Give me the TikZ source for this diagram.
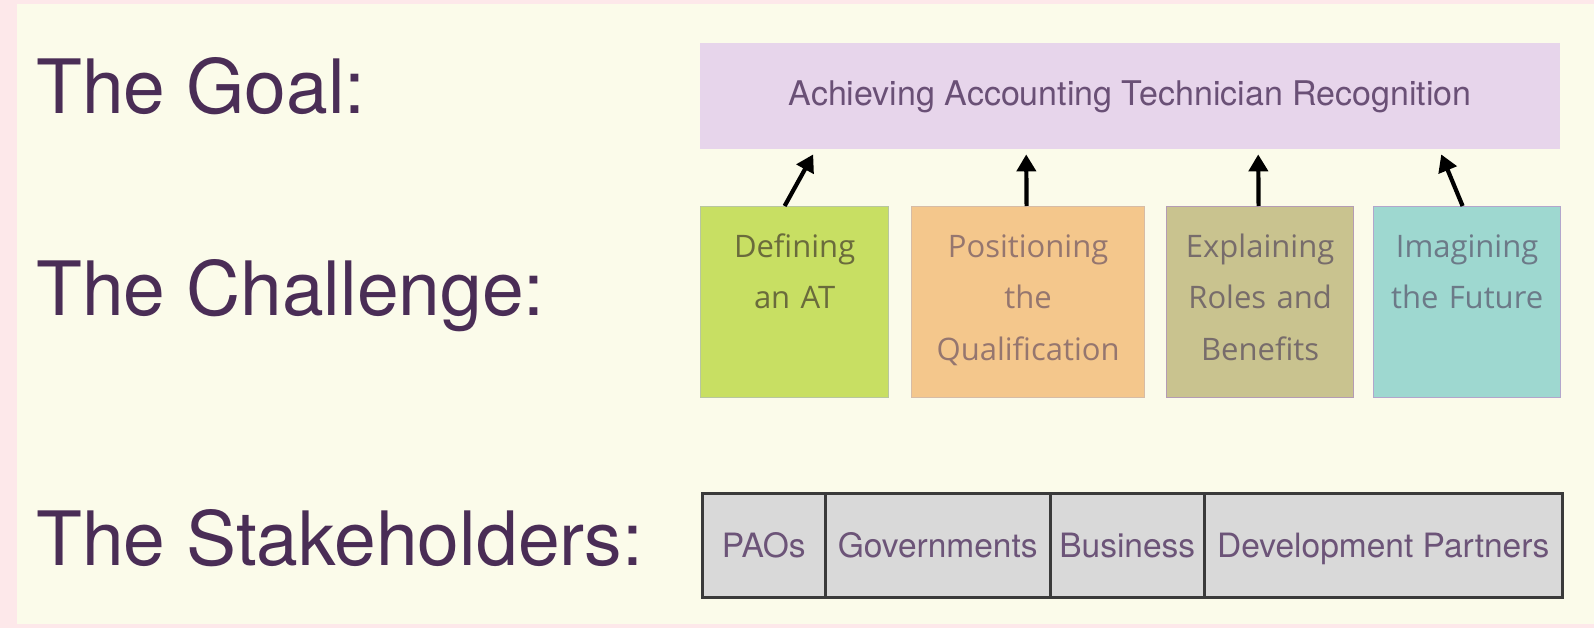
\documentclass[tikz,border=0pt]{standalone}
\usepackage{fontspec}
\setmainfont{TeX Gyre Heros}
\newfontfamily\boxfont{Open Sans}
\usetikzlibrary{arrows.meta}
\definecolor{pinkbg}{HTML}{FDE8EA}
\definecolor{creambg}{HTML}{FBFBEA}
\definecolor{labelc}{HTML}{4A2D56}
\definecolor{goalfill}{HTML}{E7D5EB}
\definecolor{goaltext}{HTML}{6A5076}
\definecolor{gfill}{HTML}{C8DF63}
\definecolor{gdraw}{HTML}{B8C6A0}
\definecolor{gtext}{HTML}{6A6B3C}
\definecolor{ofill}{HTML}{F4C78C}
\definecolor{odraw}{HTML}{D6BCA6}
\definecolor{otext}{HTML}{95766F}
\definecolor{kfill}{HTML}{C9C38F}
\definecolor{kdraw}{HTML}{B49CB4}
\definecolor{ktext}{HTML}{776C6B}
\definecolor{tfill}{HTML}{9ED8D0}
\definecolor{tdraw}{HTML}{B2A6CC}
\definecolor{ttext}{HTML}{6C7A88}
\definecolor{cellfill}{HTML}{D9D9D9}
\definecolor{celldraw}{HTML}{3A3A3A}
\definecolor{celltext}{HTML}{6C5478}
\begin{document}
\begin{tikzpicture}[x=1pt,y=-1pt,
  rowlabel/.style={anchor=base west, inner sep=0pt, text=labelc, font=\fontsize{75}{80}\selectfont},
  chbox/.style={anchor=north west, minimum height=191pt, line width=1.2pt, inner sep=0pt},
  chtext/.style={anchor=base, inner sep=0pt, text width=220pt, align=center, font=\boxfont\fontsize{31}{51}\selectfont},
  cell/.style={anchor=north west, minimum height=104pt, fill=cellfill, draw=celldraw, line width=2.5pt, inner sep=0pt, text height=25pt, text depth=1pt, text=celltext, font=\fontsize{33.5}{40}\selectfont},
  arr/.style={line width=4.2pt, -{Triangle[length=17pt,width=19pt]}}
]
\fill[pinkbg] (0,0) rectangle (1594,628);
\fill[creambg] (17,4) rectangle (1594,624);
\useasboundingbox (0,0) rectangle (1594,628);

\node[rowlabel] (lgoal) at (36,114) {The Goal:};
\node[rowlabel] (lchal) at (36,315) {The Challenge:};
\node[rowlabel] (lstake) at (36,565) {The Stakeholders:};

\node[anchor=north west, minimum width=860pt, minimum height=106pt, fill=goalfill, inner sep=0pt,
      text height=25pt, text depth=7pt, text=goaltext, font=\fontsize{34}{40}\selectfont]
      (goal) at (700,43) {Achieving Accounting Technician Recognition};

\node[chbox, minimum width=188pt, fill=gfill, draw=gdraw] (g1) at (700,206) {};
\node[chbox, minimum width=233pt, fill=ofill, draw=odraw] (g2) at (911,206) {};
\node[chbox, minimum width=187pt, fill=kfill, draw=kdraw] (g3) at (1166,206) {};
\node[chbox, minimum width=187pt, fill=tfill, draw=tdraw] (g4) at (1373,206) {};

\node[chtext, text=gtext] (t1) at ([yshift=-52pt]g1.north) {Defining\\an AT};
\node[chtext, text=otext] (t2) at ([yshift=-52pt]g2.north) {Positioning\\the\\Qualification};
\node[chtext, text=ktext] (t3) at ([yshift=-52pt]g3.north) {Explaining\\Roles and\\Benefits};
\node[chtext, text=ttext] (t4) at ([yshift=-52pt]g4.north) {Imagining\\the Future};

\draw[arr] ([xshift=-10pt]g1.north) -- ([xshift=-317pt,yshift=-5pt]goal.south);
\draw[arr] ([xshift=-1.5pt]g2.north) -- ([xshift=-104pt,yshift=-5pt]goal.south);
\draw[arr] ([xshift=-1.5pt]g3.north) -- ([xshift=128pt,yshift=-5pt]goal.south);
\draw[arr] ([xshift=-4.5pt]g4.north) -- ([xshift=311pt,yshift=-5pt]goal.south);

\node[cell, minimum width=123pt] (c1) at (701,492) {PAOs};
\node[cell, minimum width=225pt] (c2) at (824,492) {Governments};
\node[cell, minimum width=154pt] (c3) at (1049,492) {Business};
\node[cell, minimum width=358pt] (c4) at (1203,492) {Development Partners};
\end{tikzpicture}
\end{document}
